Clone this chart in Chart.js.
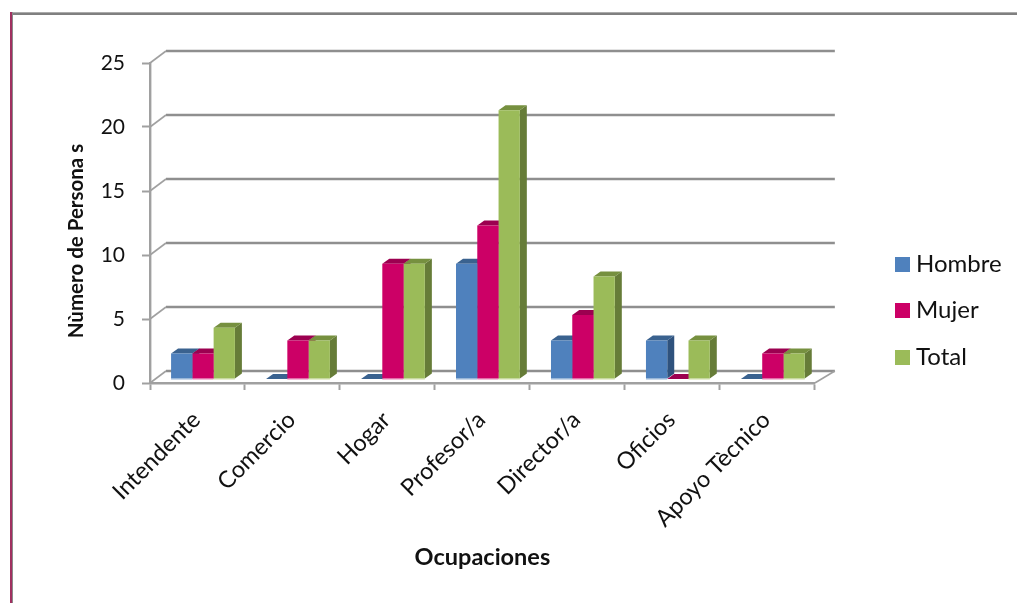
<!DOCTYPE html>
<html><head><meta charset="utf-8">
<style>html,body{margin:0;padding:0;background:#fff}#w{position:relative;width:1017px;height:603px;overflow:hidden}
canvas{display:block}
.frameTop{position:absolute;left:10px;top:12px;right:0;height:3px;background:linear-gradient(#ababab 33%,#808080 33%)}
.frameLeft{position:absolute;left:10px;top:12px;bottom:0;width:3px;background:linear-gradient(90deg,#a03060 60%,#8a8a8a 60%)}
</style>
<script src="https://cdn.jsdelivr.net/npm/chart.js@4"></script></head><body>
<div id="w"><canvas id="c" width="1017" height="603"></canvas><div class="frameTop"></div><div class="frameLeft"></div></div>
<script>
const categories=["Intendente","Comercio","Hogar","Profesor/a","Director/a","Oficios","Apoyo Tècnico"];
const hombre=[2,0,0,9,3,3,0];
const mujer=[2,3,9,12,5,0,2];
const total=[4,3,9,21,8,3,2];
const seriesNames=["Hombre","Mujer","Total"];
const frontColors=["#4f81bd","#cc0066","#9bbb59"];
const sideColors=["#2f527d","#8f0047","#667c38"];
const topColors=["#3a628f","#9c0050","#76903f"];
const paleColors=["#c9d8ea","#f2bcd8","#e6eecf"];
const FONT="Lato";
const GRID="#8f8f8f", AXIS="#a0a0a0";
const WALL={dx:16,dy:-12}, BAR={dx:5.5,dy:-4}, DEPTH={dx:7,dy:-5};
const yTickValues=[0,5,10,15,20,25];

function swatch(color){const s=document.createElement('canvas');s.width=15;s.height=15;const g=s.getContext('2d');g.fillStyle=color;g.fillRect(0,0,15,15);return s;}
const swatches=frontColors.map(swatch);

const threeD={id:'threeD',
 afterLayout(chart){
  const lg=chart.legend,pad=lg.options.labels.padding;
  lg.left=901-pad;lg.right=1017;
  lg.top=252-pad;lg.bottom=lg.top+pad+lg.columnSizes[0].height;
 },
 beforeDatasetsDraw(chart){
  const {ctx,chartArea:a,scales:{y}}=chart;
  ctx.save();
  ctx.lineWidth=2.6;ctx.strokeStyle=GRID;
  yTickValues.forEach(v=>{const p=y.getPixelForValue(v);
    ctx.beginPath();ctx.moveTo(a.left+WALL.dx,p+WALL.dy);ctx.lineTo(a.right+WALL.dx+4,p+WALL.dy);ctx.stroke();
  });
  ctx.lineWidth=1.6;ctx.strokeStyle=AXIS;
  yTickValues.forEach(v=>{const p=y.getPixelForValue(v);
    ctx.beginPath();ctx.moveTo(a.left,p);ctx.lineTo(a.left+WALL.dx,p+WALL.dy);ctx.stroke();
  });
  const p0=y.getPixelForValue(0);
  ctx.beginPath();ctx.moveTo(a.right,p0);ctx.lineTo(a.right+WALL.dx+4,p0+WALL.dy);ctx.stroke();
  ctx.translate(BAR.dx,BAR.dy);
  for(let c=0;c<categories.length;c++){
   for(let d=0;d<3;d++){
    const b=chart.getDatasetMeta(d).data[c];
    const l=b.x-b.width/2,r=b.x+b.width/2,t=b.y,base=b.base;
    if(t<base){
     ctx.fillStyle=paleColors[d];ctx.fillRect(l,base,b.width,1.5);
     ctx.fillStyle=sideColors[d];
     ctx.beginPath();ctx.moveTo(r,t);ctx.lineTo(r+DEPTH.dx,t+DEPTH.dy);ctx.lineTo(r+DEPTH.dx,base+DEPTH.dy);ctx.lineTo(r,base);ctx.closePath();ctx.fill();
    }
    ctx.fillStyle=topColors[d];
    ctx.beginPath();ctx.moveTo(l,t);ctx.lineTo(l+DEPTH.dx,t+DEPTH.dy);ctx.lineTo(r+DEPTH.dx,t+DEPTH.dy);ctx.lineTo(r,t);ctx.closePath();ctx.fill();
   }
  }
  ctx.restore();
  ctx.save();ctx.translate(BAR.dx,BAR.dy);
 },
 afterDatasetsDraw(chart){
  const {ctx}=chart;
  ctx.restore();
  ctx.save();
  ctx.font="bold 20.5px "+FONT;ctx.fillStyle="#111";ctx.textAlign="center";ctx.textBaseline="middle";
  ctx.translate(76,241);ctx.rotate(-Math.PI/2);
  ctx.fillText("Nùmero de Persona s",0,0);
  ctx.restore();
 }
};

new Chart(document.getElementById('c'),{
 type:'bar',
 data:{labels:categories,datasets:[
  {label:seriesNames[0],data:hombre,backgroundColor:frontColors[0]},
  {label:seriesNames[1],data:mujer,backgroundColor:frontColors[1]},
  {label:seriesNames[2],data:total,backgroundColor:frontColors[2]}]},
 options:{responsive:false,animation:false,
  layout:{padding:{left:100,top:63,right:69,bottom:31}},
  datasets:{bar:{categoryPercentage:0.672,barPercentage:1,borderWidth:0}},
  plugins:{tooltip:{enabled:false},
   legend:{position:'right',align:'center',
    labels:{usePointStyle:true,pointStyleWidth:3,boxHeight:15,padding:22.5,color:'#111',font:{family:FONT,size:24},
     generateLabels(){return seriesNames.map((n,i)=>({text:n,datasetIndex:i,pointStyle:swatches[i],fontColor:'#111',hidden:false,lineWidth:0,fillStyle:frontColors[i],strokeStyle:frontColors[i]}));}}}},
  scales:{
   x:{offset:true,
    afterFit(s){s.height=189},
    grid:{offset:true,drawOnChartArea:false,tickLength:7,tickColor:AXIS,tickWidth:2},
    border:{color:AXIS,width:2.4},
    ticks:{color:'#111',font:{family:FONT,size:23.5},minRotation:45,maxRotation:45,autoSkip:false,padding:16,labelOffset:-1},
    title:{display:true,text:'Ocupaciones',color:'#111',font:{family:FONT,size:23.5,weight:'bold'},padding:{top:8,bottom:0}}},
   y:{min:0,max:25,
    afterFit(s){s.width=50},
    grid:{drawOnChartArea:false,tickLength:8,tickColor:AXIS,tickWidth:2},
    border:{color:AXIS,width:2.4},
    ticks:{stepSize:5,color:'#111',font:{family:FONT,size:21},padding:17}}
  }
 },
 plugins:[threeD]
});
</script></body></html>
